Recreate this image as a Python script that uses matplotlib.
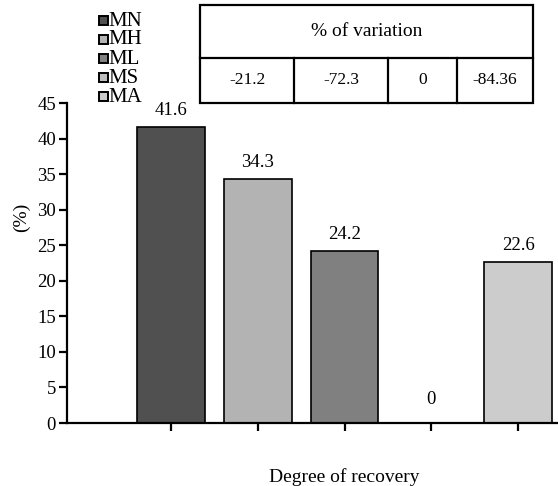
import matplotlib.pyplot as plt
from matplotlib.patches import Rectangle
from matplotlib.lines import Line2D

plt.rcParams['font.family'] = ['Liberation Serif', 'DejaVu Serif']

# data
groups = ['MN', 'MH', 'ML', 'MS', 'MA']
values = [41.6, 34.3, 24.2, 0, 22.6]
colors = ['#505050', '#b3b3b3', '#808080', '#bdbdbd', '#cccccc']
variation = ['-21.2', '-72.3', '0', '-84.36']

fig = plt.figure(figsize=(5.58, 4.86), dpi=100)
W, H = 558, 486
ax = fig.add_axes([67 / W, (H - 423) / H, (558 - 67) / W, (423 - 103) / H])

x = list(range(len(groups)))
ax.bar(x, values, width=0.78, color=colors, edgecolor='black', linewidth=1.2)
for xi, v in zip(x, values):
    ax.annotate(f'{v:g}', (xi, v), xytext=(0, 6 if v > 0 else 11), textcoords='offset points',
                ha='center', va='bottom', fontsize=13.5)

ax.set_xlim(-1.2, 4.46)
ax.set_ylim(0, 45)
ax.set_yticks(range(0, 46, 5))
ax.set_xticks(x)
ax.set_xticklabels([])
for s in ['top', 'right']:
    ax.spines[s].set_visible(False)
for s in ['left', 'bottom']:
    ax.spines[s].set_linewidth(1.6)
ax.tick_params(axis='both', direction='out', length=6, width=1.6, labelsize=13.5, pad=2)
ax.set_ylabel('(%)', fontsize=14, va='center')
ax.yaxis.set_label_coords(-0.092, 0.644)
ax.text(2, -7.6, 'Degree of recovery', ha='center', va='center', fontsize=14)


def fx(px):
    return px / W


def fy(py):
    return 1 - py / H


# legend, drawn by hand so the rows sit tight like the original
for i, (g, c) in enumerate(zip(groups, colors)):
    yc = 21 + 19 * i
    fig.add_artist(Rectangle((fx(99), fy(yc + 4.5)), fx(108) - fx(99), fy(yc - 4.5) - fy(yc + 4.5),
                             facecolor=c, edgecolor='black', linewidth=1.4,
                             transform=fig.transFigure))
    fig.text(fx(108), fy(yc), g, ha='left', va='center', fontsize=15)

# variation table
lw = 1.6
tl, tr, tt, tm, tb = 200, 533, 5, 58, 103
cols = [200, 294, 388, 457, 533]
fig.add_artist(Rectangle((fx(tl), fy(tb)), fx(tr) - fx(tl), fy(tt) - fy(tb),
                         fill=False, edgecolor='black', linewidth=lw, transform=fig.transFigure))
fig.add_artist(Line2D([fx(tl), fx(tr)], [fy(tm), fy(tm)], color='black', linewidth=lw,
                      transform=fig.transFigure))
for c in cols[1:-1]:
    fig.add_artist(Line2D([fx(c), fx(c)], [fy(tm), fy(tb)], color='black', linewidth=lw,
                          transform=fig.transFigure))
fig.text(fx((tl + tr) / 2), fy((tt + tm) / 2), '% of variation', ha='center', va='center', fontsize=14)
for i, t in enumerate(variation):
    fig.text(fx((cols[i] + cols[i + 1]) / 2), fy((tm + tb) / 2), t, ha='center', va='center', fontsize=12.5)

fig.savefig('out.png', dpi=100)
